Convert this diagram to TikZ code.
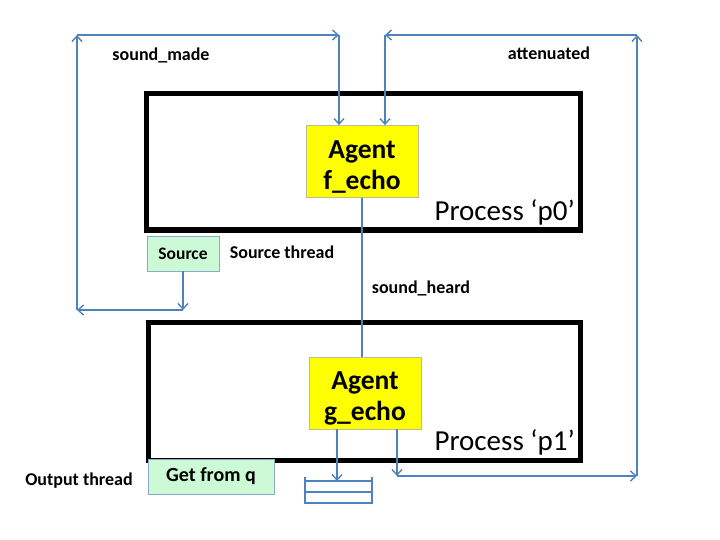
\documentclass[tikz,border=0pt]{standalone}
\usepackage{fontspec}
\setmainfont{Carlito}
\usetikzlibrary{arrows.meta}
\definecolor{lineblue}{RGB}{79,129,189}
\definecolor{agentfill}{RGB}{255,255,0}
\definecolor{agentdraw}{RGB}{190,190,140}
\definecolor{greenfill}{RGB}{204,250,214}
\definecolor{greendraw}{RGB}{140,170,200}
\tikzset{
  procbox/.style={draw=black, line width=5pt, minimum width=#1, inner sep=0pt},
  agentbox/.style={draw=agentdraw, fill=agentfill, line width=0.8pt, minimum width=112pt, minimum height=72pt, inner sep=0pt, align=center, font=\fontsize{27.5}{31}\selectfont\bfseries},
  threadbox/.style={draw=greendraw, fill=greenfill, line width=0.8pt, minimum height=35pt, inner sep=0pt},
  conn/.style={draw=lineblue, line width=1.7pt},
  arr/.style={conn, -{Straight Barb[length=5.5pt,width=10pt,line width=1.4pt]}},
  lbl/.style={font=\fontsize{18}{22}\selectfont\bfseries, inner sep=0pt},
  proclbl/.style={font=\fontsize{29}{34}\selectfont, inner sep=0pt, anchor=east}
}
\begin{document}
\begin{tikzpicture}[x=1pt, y=-1pt]
\useasboundingbox (0,0) rectangle (720,540);
% process boxes
\node[procbox=434pt, minimum height=136pt] (p0) at (363,162) {};
\node[procbox=432pt, minimum height=138pt] (p1) at (364,391) {};
% agents
\node[agentbox] (fecho) at (362,161.5) {\rule{0pt}{28pt}Agent\\f\_echo};
\node[agentbox] (gecho) at (365,393) {\rule{0pt}{28pt}Agent\\g\_echo};
% threads
\node[threadbox, minimum width=72pt, font=\fontsize{17.5}{21}\selectfont\bfseries] (source) at (183,253.5) {Source};
\node[threadbox, minimum width=126pt, font=\fontsize{20}{24}\selectfont\bfseries] (getq) at (211,476.5) {Get from q};
% labels
\node[lbl] (lmade) at (161,55) {sound\_made};
\node[lbl] (latt) at (549,53) {attenuated};
\node[lbl] (lsrc) at (282,252) {Source thread};
\node[lbl] (lheard) at (421,288) {sound\_heard};
\node[lbl] (lout) at (79,481) {Output thread};
\node[proclbl] (lp0) at (575,212) {Process ‘p0’};
\node[proclbl] (lp1) at (575,442) {Process ‘p1’};
% coordinates
\coordinate (sd) at (183,310);
\coordinate (bl) at (77,310);
\coordinate (tl) at (77,35);
\coordinate (tm) at (339,35);
\coordinate (tr2) at (385,35);
\coordinate (tr) at (637,35);
\coordinate (br) at (637,476);
\coordinate (gb) at (397,476);
\coordinate (qtop) at (337,481);
% queue
\draw[conn] (305,477) -- (305,503) -- (372,503) -- (372,477);
\draw[conn] (305,481) -- (372,481);
\draw[conn] (305,492) -- (372,492);
% connectors
\draw[arr] (source.south -| sd) -- (sd);
\draw[arr] (sd) -- (bl);
\draw[arr] (bl) -- (tl);
\draw[arr] (tl) -- (tm);
\draw[arr] (tm) -- (tm |- fecho.north);
\draw[arr] (br) -- (tr);
\draw[arr] (tr) -- (tr2);
\draw[arr] (tr2) -- (tr2 |- fecho.north);
\draw[conn] (fecho.south) -- (fecho.south |- gecho.north);
\draw[arr] (gb |- gecho.south) -- (gb);
\draw[arr] (gb) -- (br);
\draw[arr] (qtop |- gecho.south) -- (qtop);
\end{tikzpicture}
\end{document}
